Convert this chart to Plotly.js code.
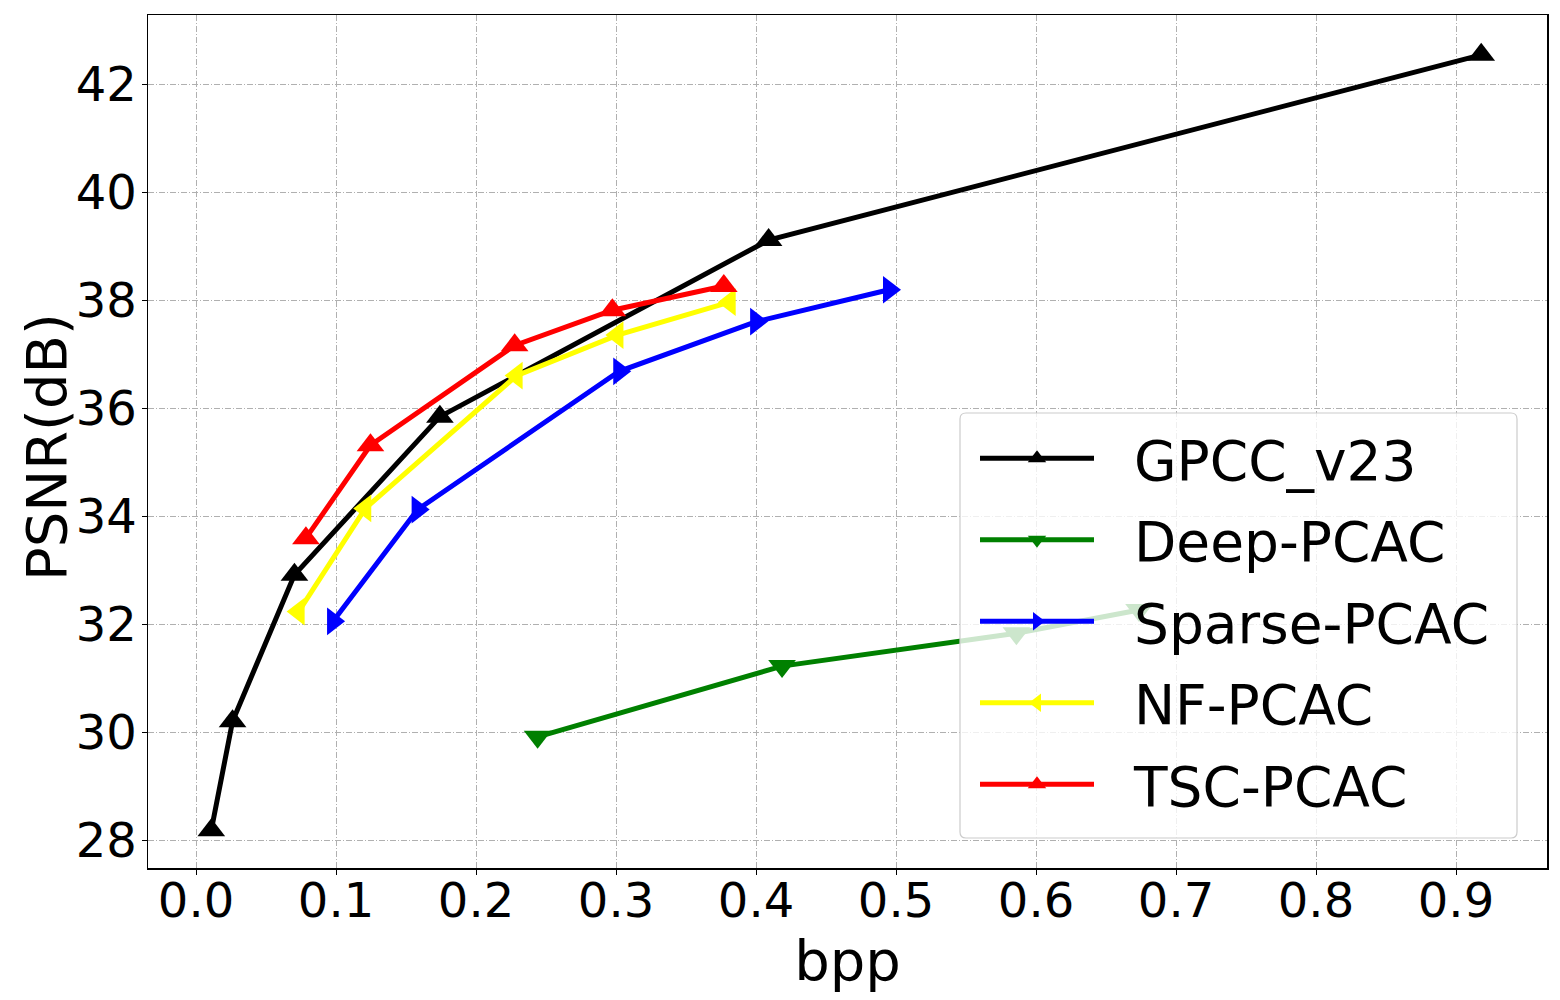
<!DOCTYPE html>
<html>
<head>
<meta charset="utf-8">
<script src="https://cdn.plot.ly/plotly-3.0.1.min.js"></script>
<style>html,body{margin:0;padding:0;background:#fff;}</style>
</head>
<body>
<div id="chart" style="width:1560px;height:1000px;"></div>
<script>
const seriesNames = ["GPCC_v23", "Deep-PCAC", "Sparse-PCAC", "NF-PCAC", "TSC-PCAC"];
const gpccX = [0.0109, 0.0261, 0.0703, 0.1742, 0.409, 0.918];
const gpccY = [28.18, 30.2, 32.91, 35.84, 39.11, 42.54];
const deepX = [0.244, 0.4186, 0.586, 0.6736];
const deepY = [29.91, 31.22, 31.83, 32.26];
const sparseX = [0.0979, 0.1583, 0.3023, 0.4001, 0.495];
const sparseY = [32.05, 34.12, 36.68, 37.6, 38.19];
const nfX = [0.0733, 0.1209, 0.229, 0.301, 0.3812];
const nfY = [32.23, 34.14, 36.6, 37.35, 37.96];
const tscX = [0.0785, 0.1246, 0.2276, 0.2974, 0.377];
const tscY = [33.59, 35.31, 37.16, 37.81, 38.26];
const xTicks = [0.0, 0.1, 0.2, 0.3, 0.4, 0.5, 0.6, 0.7, 0.8, 0.9];
const yTicks = [28, 30, 32, 34, 36, 38, 40, 42];

const colors = ["#000000", "#008000", "#0000ff", "#ffff00", "#ff0000"];
const symbols = ["triangle-up", "triangle-down", "triangle-right", "triangle-left", "triangle-up"];
const xs = [gpccX, deepX, sparseX, nfX, tscX];
const ys = [gpccY, deepY, sparseY, nfY, tscY];

const NB = "\u00a0\u00a0";
const traces = seriesNames.map((n, i) => ({
  type: "scatter",
  mode: "lines+markers",
  name: NB + n,
  x: xs[i],
  y: ys[i],
  legendgroup: "g" + i,
  line: {color: colors[i], width: 5},
  marker: {color: colors[i], symbol: symbols[i], size: 24, line: {width: 0}}
}));

const font = "DejaVu Sans, sans-serif";
const gridCommon = {
  showgrid: true,
  gridcolor: "#b0b0b0",
  gridwidth: 1,
  griddash: "6px,2px,1px,2px",
  zeroline: false,
  showline: true,
  mirror: true,
  linecolor: "#000000",
  linewidth: 1.5,
  ticks: "outside",
  ticklen: 5,
  tickwidth: 1,
  tickcolor: "#000000",
  tickfont: {family: font, size: 48, color: "#000000"}
};

// legend frame geometry (paper fractions)
const L = {x0: (960 - 148) / 1399, x1: (1517 - 148) / 1399, y0: (868 - 838) / 853, y1: (868 - 413) / 853};
const rx = 6 / 1399, ry = 6 / 853;
const framePath =
  `M${L.x0 + rx},${L.y0} L${L.x1 - rx},${L.y0} Q${L.x1},${L.y0} ${L.x1},${L.y0 + ry} ` +
  `L${L.x1},${L.y1 - ry} Q${L.x1},${L.y1} ${L.x1 - rx},${L.y1} ` +
  `L${L.x0 + rx},${L.y1} Q${L.x0},${L.y1} ${L.x0},${L.y1 - ry} ` +
  `L${L.x0},${L.y0 + ry} Q${L.x0},${L.y0} ${L.x0 + rx},${L.y0} Z`;

const layout = {
  width: 1560,
  height: 1000,
  margin: {l: 148, r: 13, t: 15, b: 132},
  paper_bgcolor: "#ffffff",
  plot_bgcolor: "#ffffff",
  showlegend: true,
  xaxis: Object.assign({}, gridCommon, {
    range: [-0.0343, 0.965],
    tickvals: xTicks,
    ticktext: xTicks.map(v => v.toFixed(1)),
    ticklabelstandoff: -15,
    title: {text: "bpp", font: {family: font, size: 56, color: "#000000"}, standoff: 5}
  }),
  yaxis: Object.assign({}, gridCommon, {
    range: [27.4815, 43.278],
    tickvals: yTicks,
    ticktext: yTicks.map(v => String(v)),
    ticklabelstandoff: -5
  }),
  annotations: [{
    text: "PSNR(dB)",
    xref: "paper",
    yref: "paper",
    x: (46 - 148) / 1399,
    y: (868 - 447) / 853,
    xanchor: "center",
    yanchor: "middle",
    textangle: -90,
    showarrow: false,
    font: {family: font, size: 56, color: "#000000"}
  }],
  shapes: [{
    type: "path",
    xref: "paper",
    yref: "paper",
    path: framePath,
    fillcolor: "rgba(255,255,255,0.8)",
    line: {color: "#cccccc", width: 1.2},
    layer: "above"
  }],
  legend: {
    x: (975 - 148) / 1399,
    y: (868 - 416) / 853,
    xanchor: "left",
    yanchor: "top",
    bgcolor: "rgba(0,0,0,0)",
    borderwidth: 0,
    font: {family: font, size: 55, color: "#000000"},
    itemwidth: 114,
    tracegroupgap: 7,
    traceorder: "grouped"
  }
};

Plotly.newPlot("chart", traces, layout, {displayModeBar: false, staticPlot: true});
</script>
</body>
</html>
